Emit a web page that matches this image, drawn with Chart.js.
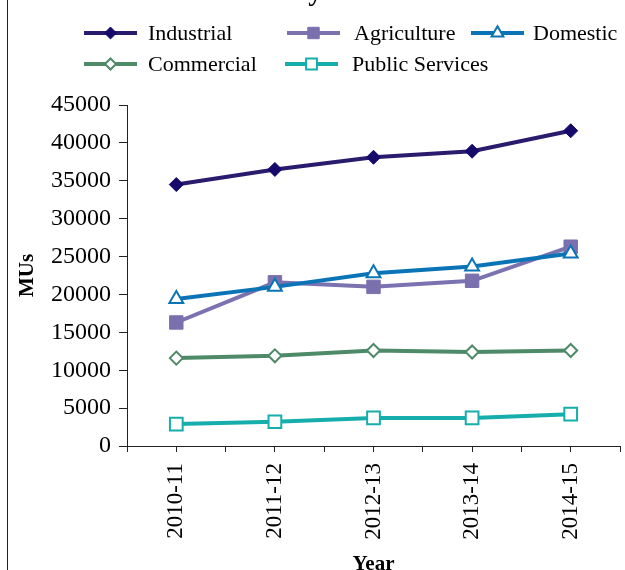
<!DOCTYPE html>
<html>
<head>
<meta charset="utf-8">
<script src="https://cdn.jsdelivr.net/npm/chart.js@4.4.0/dist/chart.umd.min.js"></script>
<style>
    html, body { margin: 0; padding: 0; background: #fff; overflow: hidden; }
    #wrap { position: relative; width: 625px; height: 570px; }
    #wrap canvas { display: block; }
</style>
</head>
<body>
<div id="wrap"><canvas id="consumptionChart"></canvas></div>
<script>
const years = ['2010-11', '2011-12', '2012-13', '2013-14', '2014-15'];

const industrial = [34500, 36500, 38100, 38900, 41600];
const agriculture = [16300, 21600, 21000, 21800, 26300];
const domestic = [19400, 21000, 22800, 23700, 25400];
const commercial = [11600, 11900, 12600, 12400, 12600];
const publicServices = [2900, 3200, 3700, 3700, 4200];

const yMin = 0;
const yMax = 45000;
const yStep = 5000;

const serif = '"Liberation Serif", "Times New Roman", serif';

// styles per series (legend order)
const series = [
    { label: 'Industrial', values: industrial, line: '#2B1B6C', fill: '#150A6B', border: '#150A6B', style: 'rectRot', radius: 7, bw: 1, order: 1 },
    { label: 'Agriculture', values: agriculture, line: '#7B72B0', fill: '#7A70AE', border: '#7A70AE', style: 'rect', radius: 9.5, bw: 1, order: 3 },
    { label: 'Domestic', values: domestic, line: '#0B74B6', fill: '#ffffff', border: '#0B74B6', style: 'triangle', radius: 8, bw: 2, order: 2 },
    { label: 'Commercial', values: commercial, line: '#4E8A68', fill: '#ffffff', border: '#4E8A68', style: 'rectRot', radius: 6.5, bw: 2, order: 4 },
    { label: 'Public Services', values: publicServices, line: '#16AEAC', fill: '#ffffff', border: '#16AEAC', style: 'rect', radius: 9, bw: 2, order: 5 }
];

const legendSlots = [
    { x: 84, y: 33, tx: 148 },
    { x: 287, y: 33, tx: 354 },
    { x: 471, y: 33, tx: 533 },
    { x: 84, y: 64, tx: 148 },
    { x: 285, y: 64, tx: 352 }
];

const framePlugin = {
    id: 'frame',
    beforeDraw(chart) {
        const ctx = chart.ctx;
        ctx.save();
        ctx.fillStyle = '#fff';
        ctx.fillRect(0, 0, chart.width, chart.height);
        ctx.strokeStyle = '#222';
        ctx.lineWidth = 1;
        ctx.beginPath();
        ctx.moveTo(7.5, 0);
        ctx.lineTo(7.5, chart.height);
        ctx.stroke();
        // title, cut off at the top edge
        ctx.fillStyle = '#000';
        ctx.font = 'bold 28px ' + serif;
        ctx.textAlign = 'center';
        ctx.textBaseline = 'alphabetic';
        ctx.fillText('Electricity', 260, -0.5);
        ctx.restore();
    }
};

const legendPlugin = {
    id: 'gridLegend',
    afterDraw(chart) {
        const ctx = chart.ctx;
        ctx.save();
        chart.data.datasets.forEach((ds, i) => {
            const slot = legendSlots[i];
            ctx.strokeStyle = ds.borderColor;
            ctx.lineWidth = 4;
            ctx.beginPath();
            ctx.moveTo(slot.x, slot.y);
            ctx.lineTo(slot.x + 53, slot.y);
            ctx.stroke();

            ctx.fillStyle = ds.pointBackgroundColor;
            ctx.strokeStyle = ds.pointBorderColor;
            ctx.lineWidth = ds.pointBorderWidth;
            Chart.helpers.drawPoint(ctx, {
                pointStyle: ds.pointStyle,
                radius: ds.pointRadius * 0.85,
                rotation: 0,
                borderWidth: ds.pointBorderWidth
            }, slot.x + 26.5, slot.y);

            ctx.fillStyle = '#000';
            ctx.font = '22px ' + serif;
            ctx.textAlign = 'left';
            ctx.textBaseline = 'middle';
            ctx.fillText(ds.label, slot.tx, slot.y + 1);
        });
        ctx.restore();
    }
};

const datasets = series.map(s => ({
    label: s.label,
    data: s.values.map((v, i) => ({ x: i, y: v })),
    borderColor: s.line,
    borderWidth: 4,
    pointStyle: s.style,
    pointRadius: s.radius,
    pointBackgroundColor: s.fill,
    pointBorderColor: s.border,
    pointBorderWidth: s.bw,
    tension: 0,
    order: s.order
}));

const ctx = document.getElementById('consumptionChart').getContext('2d');
new Chart(ctx, {
    type: 'line',
    data: { datasets },
    options: {
        responsive: true,
        maintainAspectRatio: false,
        animation: false,
        layout: {
            autoPadding: false,
            padding: { top: 105, right: 5, bottom: 0, left: 0 }
        },
        plugins: {
            legend: { display: false },
            title: { display: false },
            tooltip: { enabled: false }
        },
        scales: {
            x: {
                type: 'linear',
                min: -0.5,
                max: 4.5,
                afterFit: scale => {
                    scale.height = 124;
                    scale.paddingLeft = 0;
                    scale.paddingRight = 0;
                },
                ticks: {
                    stepSize: 0.5,
                    autoSkip: false,
                    minRotation: 90,
                    maxRotation: 90,
                    padding: 11,
                    color: '#000',
                    font: { family: serif, size: 23 },
                    callback: value => {
                        const i = Math.round(value);
                        return Math.abs(value - i) < 1e-6 ? (years[i] || '') : '';
                    }
                },
                grid: { drawOnChartArea: false, tickLength: 6, color: '#222' },
                border: { color: '#222', width: 1 },
                title: {
                    display: true,
                    text: 'Year',
                    color: '#000',
                    font: { family: serif, size: 21, weight: 'bold' },
                    padding: { top: 0, bottom: -7 }
                }
            },
            y: {
                min: yMin,
                max: yMax,
                afterFit: scale => { scale.width = 127; },
                ticks: {
                    stepSize: yStep,
                    padding: 8,
                    color: '#000',
                    font: { family: serif, size: 24 },
                    callback: value => String(value)
                },
                grid: { drawOnChartArea: false, tickLength: 8, color: '#222' },
                border: { color: '#222', width: 1 },
                title: {
                    display: true,
                    text: 'MUs',
                    color: '#000',
                    font: { family: serif, size: 21, weight: 'bold' },
                    padding: { top: 15, bottom: 0 }
                }
            }
        }
    },
    plugins: [framePlugin, legendPlugin]
});
</script>
</body>
</html>
